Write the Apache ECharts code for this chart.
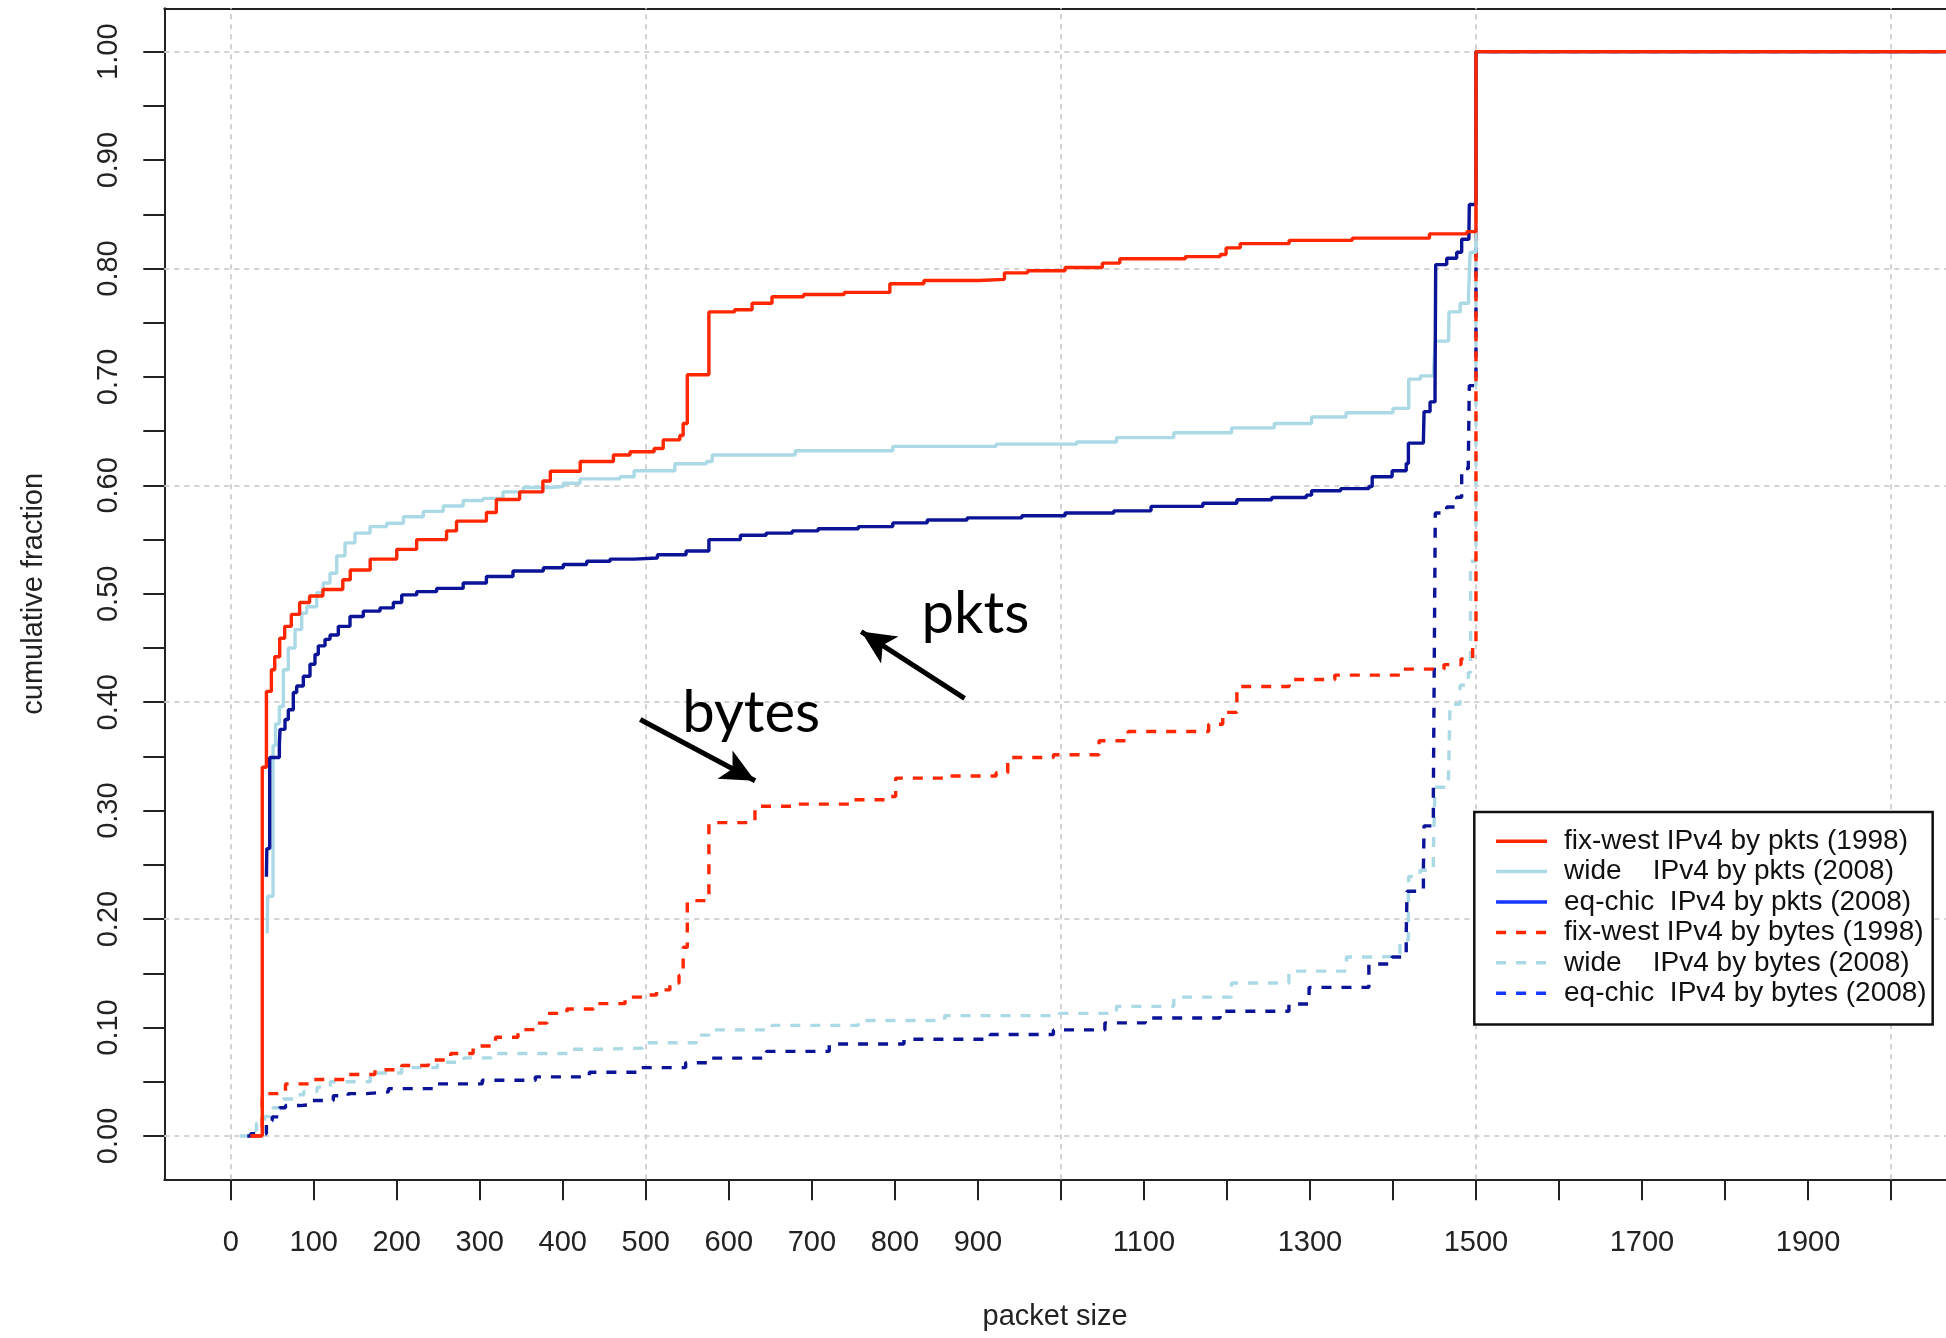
<!DOCTYPE html>
<html>
<head>
<meta charset="utf-8">
<script src="https://cdn.jsdelivr.net/npm/echarts@6/dist/echarts.min.js"></script>
<style>
html,body{margin:0;padding:0;background:#fff;}
#chart{width:1946px;height:1338px;}
</style>
</head>
<body>
<div id="chart"></div>
<script>
// ---------------- data (packet size, cumulative fraction) ----------------
const fixWestPkts = [[24,0],[38,0.34],[43,0.41],[49,0.43],[53,0.442],[59,0.459],[65,0.47],[73,0.481],[83,0.492],[95,0.498],[111,0.504],[135,0.513],[144,0.522],[168,0.532],[200,0.541],[224,0.55],[260,0.558],[272,0.567],[308,0.575],[320,0.587],[348,0.594],[376,0.604],[385,0.613],[421,0.622],[461,0.628],[481,0.631],[510,0.634],[521,0.642],[541,0.646],[545,0.657],[550,0.702],[576,0.76],[607,0.762],[628,0.768],[652,0.774],[690,0.776],[739,0.778],[794,0.786],[835,0.789],[901,0.79],[932,0.796],[960,0.798],[1005,0.801],[1050,0.805],[1071,0.809],[1150,0.811],[1192,0.813],[1199,0.819],[1216,0.823],[1275,0.826],[1351,0.828],[1444,0.832],[1489,0.834],[1500,1.0],[2100,1.0]];

const widePkts = [[44,0.187],[44.5,0.221],[51,0.36],[54,0.38],[58.6,0.396],[63.4,0.43],[69.4,0.45],[77.5,0.467],[85.5,0.482],[91.5,0.488],[103.6,0.501],[111.5,0.51],[119.6,0.519],[127.7,0.535],[137.7,0.547],[149.7,0.556],[167.8,0.562],[187.9,0.565],[208,0.571],[232,0.576],[256,0.581],[280,0.586],[304,0.588],[328,0.594],[352.5,0.598],[384.6,0.599],[400.6,0.602],[420.8,0.606],[469,0.608],[486,0.6135],[535,0.62],[573,0.622],[580,0.628],[680,0.632],[797.6,0.636],[922,0.638],[1019,0.64],[1067,0.644],[1136,0.6486],[1205.6,0.653],[1257,0.657],[1302,0.663],[1343.5,0.667],[1400,0.671],[1419,0.698],[1433,0.701],[1449,0.707],[1451,0.733],[1467,0.736],[1467.5,0.76],[1481,0.768],[1491,0.774],[1493,0.815],[1500,1.0],[2100,1.0]];

const eqChicPkts = [[43,0.239],[43.5,0.265],[47,0.349],[58.6,0.361],[59.4,0.375],[65.4,0.384],[69.4,0.393],[75.4,0.409],[79.5,0.415],[87.5,0.424],[95.5,0.435],[101.5,0.444],[105.5,0.452],[113.6,0.458],[119.6,0.462],[129.6,0.47],[143.7,0.479],[159.7,0.484],[179.8,0.487],[195.9,0.492],[206,0.499],[224,0.502],[248,0.505],[280,0.51],[308,0.516],[340,0.521],[376.6,0.524],[400.6,0.527],[428.8,0.53],[457,0.532],[486,0.533],[514,0.536],[548.5,0.5395],[576,0.55],[614,0.554],[645,0.556],[676.5,0.558],[707.5,0.56],[756,0.562],[797.5,0.5654],[839,0.568],[887,0.57],[953,0.572],[1005,0.5745],[1063.8,0.5765],[1108.6,0.5806],[1171,0.5835],[1212,0.5868],[1254,0.5888],[1295.6,0.591],[1302,0.595],[1337,0.597],[1371,0.599],[1375,0.608],[1399,0.6135],[1416,0.6202],[1418.6,0.639],[1436.7,0.642],[1437.5,0.668],[1444.7,0.677],[1450.7,0.686],[1451.5,0.8036],[1464.8,0.8095],[1476.8,0.815],[1482.8,0.827],[1491.5,0.83],[1492,0.859],[1500,1.0],[2100,1.0]];

const fixWestBytes = [[24,0],[38,0.035],[43,0.039],[66,0.048],[98.5,0.052],[141,0.0566],[173.8,0.061],[206,0.065],[238,0.07],[265,0.076],[292,0.083],[319,0.091],[346,0.098],[367,0.104],[381,0.113],[405,0.117],[437,0.122],[475,0.128],[502,0.13],[513,0.1347],[529,0.141],[540,0.148],[545,0.174],[550,0.217],[573,0.221],[576,0.289],[604,0.289],[631.5,0.304],[680,0.306],[749,0.31],[790.5,0.313],[801,0.33],[860,0.332],[922,0.335],[936,0.349],[991,0.3515],[1046,0.3645],[1081,0.373],[1178,0.3797],[1195,0.3906],[1212,0.4145],[1275,0.421],[1330,0.425],[1413,0.4305],[1461.5,0.4347],[1482,0.44],[1496,0.451],[1500,1.0],[2100,1.0]];

const wideBytes = [[11,0],[23,0.005],[31,0.012],[41,0.018],[51,0.026],[63,0.034],[79.5,0.038],[88,0.041],[104,0.045],[120,0.05],[168,0.058],[206,0.063],[249,0.068],[281,0.072],[314,0.076],[410,0.08],[445,0.081],[496.5,0.086],[561,0.093],[576,0.0978],[652,0.102],[756,0.1065],[860,0.111],[998,0.113],[1067,0.1195],[1136,0.128],[1205.6,0.141],[1274.7,0.152],[1344,0.165],[1384,0.166],[1408.5,0.1806],[1418.6,0.2187],[1419,0.2393],[1432.6,0.245],[1448.7,0.263],[1450.7,0.3216],[1466.8,0.3275],[1468.8,0.398],[1480.8,0.4157],[1490.8,0.4274],[1493.5,0.53],[1500,1.0],[2100,1.0]];

const eqChicBytes = [[20,0],[24,0.002],[43,0.014],[50,0.0176],[59,0.026],[66,0.028],[83.5,0.029],[98.5,0.0327],[123.6,0.037],[141.5,0.039],[163.8,0.0406],[190,0.0436],[249,0.048],[303,0.0513],[367,0.0545],[432,0.0587],[493,0.063],[548,0.0675],[576,0.0718],[645.4,0.078],[721,0.0848],[811,0.0891],[915,0.0935],[991,0.0978],[1053,0.1043],[1101.8,0.1087],[1191.7,0.115],[1274.7,0.1217],[1299,0.137],[1371,0.1585],[1399,0.165],[1416,0.1867],[1417,0.2257],[1436.7,0.2475],[1437.5,0.286],[1448.7,0.316],[1451,0.5745],[1464.8,0.58],[1476.8,0.589],[1482.8,0.6155],[1490.8,0.6213],[1492,0.692],[1500,1.0],[2100,1.0]];

// ---------------- names, ticks ----------------
const seriesNames = [
  'fix-west IPv4 by pkts (1998)',
  'wide    IPv4 by pkts (2008)',
  'eq-chic  IPv4 by pkts (2008)',
  'fix-west IPv4 by bytes (1998)',
  'wide    IPv4 by bytes (2008)',
  'eq-chic  IPv4 by bytes (2008)'
];
const xTickValues = [0,100,200,300,400,500,600,700,800,900,1000,1100,1200,1300,1400,1500,1600,1700,1800,1900,2000];
const xLabelValues = [0,100,200,300,400,500,600,700,800,900,1100,1300,1500,1700,1900];
const yTickValues = [0,0.05,0.1,0.15,0.2,0.25,0.3,0.35,0.4,0.45,0.5,0.55,0.6,0.65,0.7,0.75,0.8,0.85,0.9,0.95,1.0];
const yLabelValues = [0,0.1,0.2,0.3,0.4,0.5,0.6,0.7,0.8,0.9,1.0];
const xGridValues = [0,500,1000,1500,2000];
const yGridValues = [0,0.2,0.4,0.6,0.8,1.0];
const annotationTexts = ['pkts','bytes'];

// ---------------- styling ----------------
const RED = '#ff2600', LIGHT = '#acd9e6', NAVY = '#0b1496', LEGEND_BLUE = '#1438ff';
const FONT = '"Liberation Sans", Arial, Helvetica, sans-serif';
const INK = '#222';
const DASH = [10, 10];
const X_MIN = -80, X_MAX = 2066.2, Y_MIN = -0.04, Y_MAX = 1.04;

function lineSeries(name, data, color, dashed) {
  return {
    type: 'line', name: name, data: data, step: 'end',
    symbol: 'none', showSymbol: false, z: 10, clip: true,
    lineStyle: { color: color, width: 3.4, type: dashed ? DASH : 'solid' },
    itemStyle: { color: color },
    emphasis: { disabled: true }, animation: false
  };
}

const chart = echarts.init(document.getElementById('chart'), null, { renderer: 'canvas' });

const option = {
  backgroundColor: '#fff',
  animation: false,
  grid: { left: 164.3, top: 8.3, right: 0, bottom: 158.7, show: false },
  xAxis: [{
    type: 'value', min: X_MIN, max: X_MAX, position: 'bottom',
    name: 'packet size', nameLocation: 'middle', nameGap: 123.5,
    nameTextStyle: { fontFamily: FONT, fontSize: 29, color: INK },
    axisLine: { show: true, onZero: false, lineStyle: { color: INK, width: 2 } },
    axisTick: { show: true, length: 21, customValues: xTickValues, lineStyle: { color: INK, width: 2 } },
    axisLabel: { customValues: xLabelValues, margin: 49.5, fontFamily: FONT, fontSize: 29, color: INK,
      formatter: function (v) { return String(v); } },
    splitLine: { show: false }
  }, {
    type: 'value', min: X_MIN, max: X_MAX, position: 'top',
    axisLine: { show: true, onZero: false, lineStyle: { color: INK, width: 2 } },
    axisTick: { show: false }, axisLabel: { show: false }, splitLine: { show: false }
  }],
  yAxis: {
    type: 'value', min: Y_MIN, max: Y_MAX,
    name: 'cumulative fraction', nameLocation: 'middle', nameGap: 116, nameRotate: 90,
    nameTextStyle: { fontFamily: FONT, fontSize: 29, color: INK },
    axisLine: { show: true, onZero: false, lineStyle: { color: INK, width: 2 } },
    axisTick: { show: true, length: 21, customValues: yTickValues, lineStyle: { color: INK, width: 2 } },
    axisLabel: { customValues: yLabelValues, rotate: 90, margin: 40.5, fontFamily: FONT, fontSize: 29, color: INK,
      formatter: function (v) { return Number(v).toFixed(2); } },
    splitLine: { show: false }
  },
  legend: {
    show: true, orient: 'vertical', left: 1474.3, top: 812, z: 20,
    backgroundColor: '#fff', borderColor: '#111', borderWidth: 2.5,
    padding: [14, 6, 16, 20], itemGap: 0, itemWidth: 51, itemHeight: 14,
    selectedMode: false,
    itemStyle: { opacity: 0 },
    lineStyle: { width: 3.5 },
    textStyle: { fontFamily: FONT, fontSize: 28, color: '#111', lineHeight: 30.4, padding: [0, 0, 0, 12] },
    data: [
      { name: seriesNames[0] },
      { name: seriesNames[1] },
      { name: seriesNames[2], lineStyle: { color: LEGEND_BLUE } },
      { name: seriesNames[3] },
      { name: seriesNames[4] },
      { name: seriesNames[5], lineStyle: { color: LEGEND_BLUE } }
    ]
  },
  series: [
    {
      type: 'line', name: '_grid', data: [], z: 1, silent: true,
      markLine: {
        silent: true, z: 1, animation: false, symbol: ['none', 'none'],
        label: { show: false }, emphasis: { disabled: true },
        lineStyle: { color: '#d2d2d2', width: 2, type: [5, 5] },
        data: xGridValues.map(function (v) { return { xAxis: v }; })
          .concat(yGridValues.map(function (v) { return { yAxis: v }; }))
      }
    },
    lineSeries(seriesNames[4], wideBytes, LIGHT, true),
    lineSeries(seriesNames[5], eqChicBytes, NAVY, true),
    lineSeries(seriesNames[3], fixWestBytes, RED, true),
    lineSeries(seriesNames[1], widePkts, LIGHT, false),
    lineSeries(seriesNames[2], eqChicPkts, NAVY, false),
    lineSeries(seriesNames[0], fixWestPkts, RED, false),
    {
      type: 'line', name: '_annotations', data: [], z: 15, silent: true,
      markLine: {
        silent: true, z: 15, animation: false,
        symbol: ['none', 'arrow'], symbolSize: [24, 34],
        label: { show: false }, emphasis: { disabled: true },
        lineStyle: { color: '#000', width: 5, type: 'solid' },
        itemStyle: { color: '#000' },
        data: [
          [{ coord: [884, 0.4036] }, { coord: [759.5, 0.4652] }],
          [{ coord: [493.3, 0.384] }, { coord: [631.6, 0.3276] }]
        ]
      },
      markPoint: {
        silent: true, z: 15, animation: false,
        symbol: 'rect', symbolSize: 1, itemStyle: { color: 'rgba(0,0,0,0)' },
        label: { show: true, position: 'inside', formatter: '{b}', fontFamily: 'Lato, "Open Sans", sans-serif', fontSize: 58, color: '#000' },
        data: [
          { name: annotationTexts[0], coord: [897, 0.481] },
          { name: annotationTexts[1], coord: [627, 0.3896] }
        ]
      }
    }
  ]
};

chart.setOption(option);
</script>
</body>
</html>
